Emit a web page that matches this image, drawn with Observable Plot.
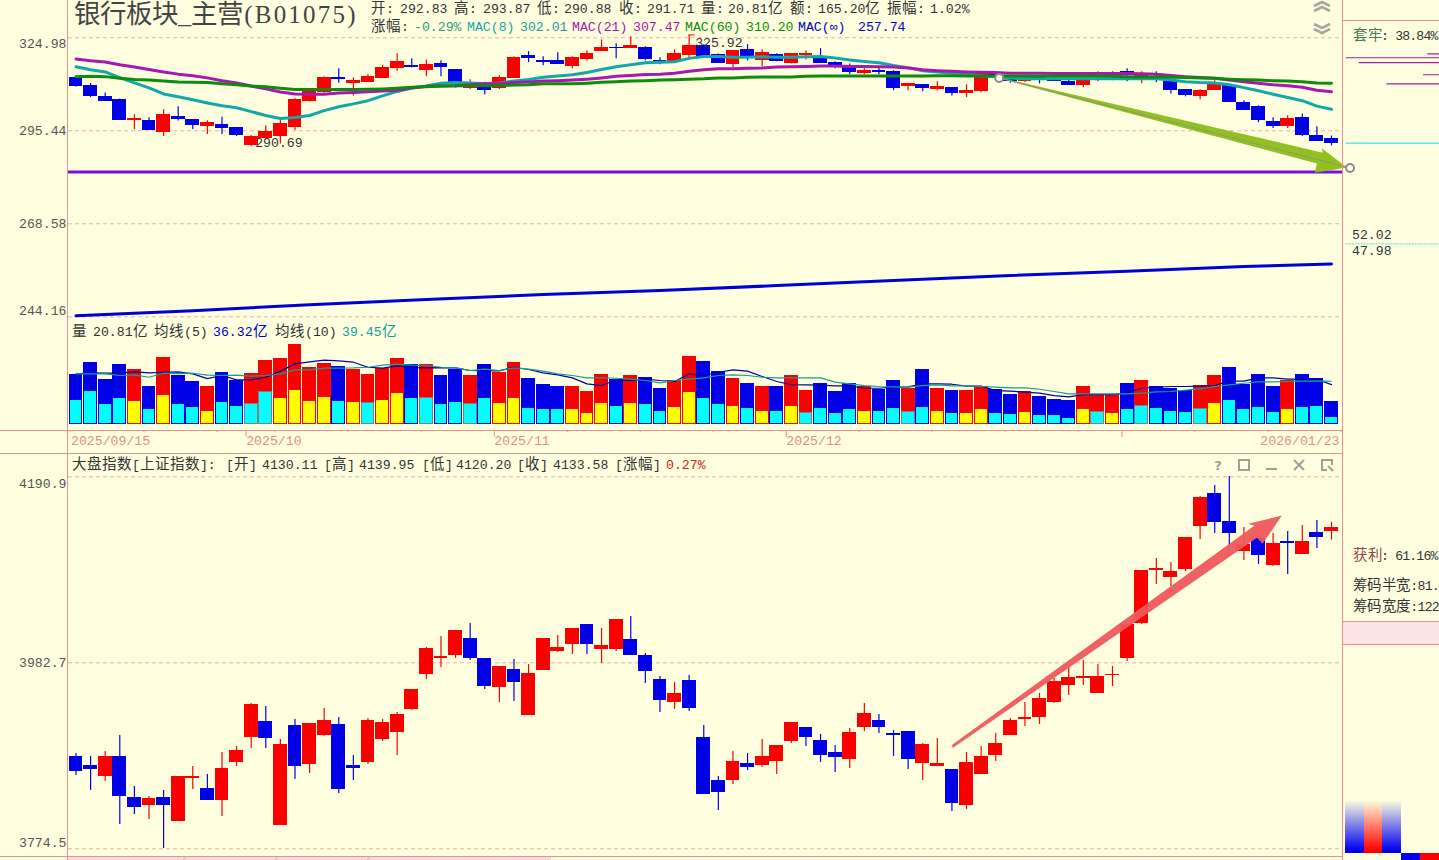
<!DOCTYPE html>
<html>
<head>
<meta charset="utf-8">
<script src="https://cdn.jsdelivr.net/npm/d3@7"></script>
<script src="https://cdn.jsdelivr.net/npm/@observablehq/plot@0.6"></script>
<style>
@font-face{font-family:CJKA;src:local("Noto Sans CJK SC");size-adjust:110%;unicode-range:U+2E80-9FFF,U+FF00-FFEF}
@font-face{font-family:CJKB;src:local("Noto Sans CJK SC");ascent-override:80%;descent-override:15%;unicode-range:U+2E80-9FFF,U+FF00-FFEF}
html,body{margin:0;padding:0;background:#ffffe0;overflow:hidden}
#stage{position:relative;width:1439px;height:860px;background:#ffffe0;overflow:hidden}
#stage svg{position:absolute;left:0}
.t{position:absolute;white-space:pre;font:13.2px/16px CJKA,"Liberation Mono","Noto Sans CJK SC",monospace;color:#333;transform:translateY(calc(-50% + 1.5px))}
.f{position:absolute;background:#ec8f8f}
</style>
</head>
<body>
<div id="stage"></div>
<script>
// ---- 板块 K 线 (sector candles, 87 sessions)
const sectorOpen=[311.9,309.4,305.9,305.0,298.7,298.5,295.2,299.6,298.8,297.0,297.3,296.4,291.3,293.4,294.0,296.7,304.7,307.3,311.9,310.4,310.7,312.0,315.1,315.8,314.5,316.4,314.5,308.7,309.1,308.7,312.0,319.0,317.3,317.3,315.8,318.1,320.7,321.7,321.7,321.7,317.4,317.4,319.4,322.4,319.4,316.4,321.0,317.7,319.4,316.8,319.4,318.4,316.8,315.1,313.6,314.2,313.9,309.4,309.7,308.4,308.8,307.0,307.8,313.2,311.8,311.0,311.9,311.4,310.7,309.7,312.1,312.3,313.9,312.3,311.5,310.7,308.1,306.2,308.1,309.4,304.1,302.8,298.2,297.0,299.4,294.0,292.83];
const sectorClose=[309.4,306.2,304.7,298.8,298.9,295.8,300.3,299.1,297.3,297.9,296.4,294.3,293.7,295.2,297.6,305.0,307.4,311.9,311.5,311.0,312.3,315.1,317.1,315.5,316.1,315.5,310.4,309.1,308.2,312.0,318.4,318.4,317.0,316.4,318.4,319.7,321.7,321.5,322.4,318.1,317.1,319.7,322.4,319.1,316.8,320.7,319.1,320.0,317.4,319.7,319.7,316.8,316.1,313.9,314.0,313.8,308.8,310.0,308.8,309.1,307.2,307.8,313.1,312.5,311.0,311.8,311.6,311.0,309.7,311.0,312.3,312.5,313.5,312.6,311.1,308.1,306.5,307.8,309.7,304.4,301.9,298.8,297.0,299.1,294.3,292.5,291.71];
const sectorHigh=[311.9,310.1,307.1,305.2,300.3,299.4,301.9,302.8,298.8,298.5,299.6,296.4,294.0,297.0,299.0,305.3,307.6,312.2,314.8,311.9,313.1,316.0,319.7,318.1,317.7,317.4,314.5,311.3,310.5,312.6,318.7,320.4,318.7,320.0,318.7,320.7,324.3,323.0,325.3,322.0,318.4,321.0,325.92,322.7,319.6,320.7,322.7,321.0,319.7,319.7,320.7,321.4,317.1,316.4,314.8,315.5,314.2,310.0,309.7,310.7,308.8,309.7,313.5,313.5,312.3,312.6,312.5,312.9,311.4,312.6,313.9,313.9,314.8,313.9,313.9,311.0,308.1,308.1,311.0,309.7,304.7,303.1,299.4,300.0,300.6,296.7,293.87];
const sectorLow=[308.9,305.7,304.5,298.7,295.8,295.5,293.7,298.4,295.8,294.3,294.3,293.7,290.69,293.3,291.5,295.5,304.3,307.0,310.2,306.2,310.5,312.0,314.0,315.1,312.3,312.3,308.7,308.2,306.5,308.2,312.0,316.8,315.8,316.3,314.8,317.4,320.7,318.1,321.7,317.4,316.1,317.1,318.4,319.1,316.7,315.1,317.4,315.5,317.1,316.4,317.7,316.8,314.8,312.9,312.9,312.9,307.8,307.8,307.5,307.8,306.2,305.7,307.2,312.0,310.2,310.4,310.0,310.8,309.5,308.8,310.7,311.0,310.7,310.0,310.4,306.8,305.9,305.0,308.1,304.4,301.9,297.9,296.1,296.1,293.7,292.2,290.88];
const mac8=[315.5,314.5,313.8,312.0,310.3,308.7,306.8,305.9,305.0,304.0,303.1,302.5,301.3,300.1,299.2,299.5,300.1,301.6,302.8,303.7,304.7,306.2,307.6,308.7,309.3,310.2,310.4,310.3,310.0,310.3,310.9,311.4,312.1,312.5,312.9,313.6,314.6,315.5,316.1,316.8,316.9,317.1,318.2,318.8,318.8,318.6,318.6,318.7,318.6,318.6,318.7,318.8,318.3,317.7,317.2,316.8,315.9,315.2,314.2,313.8,313.4,313.2,312.6,312.3,311.9,311.6,311.6,311.6,311.6,311.6,311.6,311.6,311.6,311.6,311.6,311.2,310.7,310.4,310.3,309.7,308.8,307.8,306.7,305.7,304.7,303.0,302.01];
const mac21=[318.0,317.4,317.0,316.1,315.4,314.6,313.8,313.1,312.6,311.9,311.0,310.3,309.3,308.4,307.4,306.8,306.7,306.7,307.1,307.3,307.5,307.7,308.0,308.7,309.2,309.3,309.4,309.7,310.0,310.0,310.4,310.6,310.9,311.0,311.2,311.5,311.9,312.4,312.7,313.0,313.1,313.4,314.0,314.5,314.8,314.8,315.0,315.1,315.4,315.5,315.6,315.7,315.7,315.6,315.6,315.5,315.4,315.1,314.5,314.2,314.0,313.8,313.7,313.6,313.4,313.4,313.4,313.3,313.3,313.3,313.3,313.3,313.3,313.2,313.1,312.7,312.3,312.0,311.8,311.2,310.7,310.2,309.7,309.4,308.9,308.0,307.47];
const mac60=[312.3,312.4,312.3,311.8,311.4,311.2,310.9,310.6,310.5,310.4,310.0,309.7,309.3,309.1,308.6,308.2,308.2,308.2,308.2,308.2,308.3,308.4,308.6,308.9,309.1,309.3,309.4,309.4,309.4,309.5,309.6,309.7,310.0,310.0,310.0,310.2,310.5,310.7,310.9,311.0,311.2,311.3,311.5,311.6,311.9,311.9,312.1,312.2,312.2,312.2,312.4,312.5,312.5,312.5,312.5,312.5,312.5,312.5,312.5,312.6,312.6,312.5,312.5,312.5,312.5,312.5,312.5,312.5,312.5,312.5,312.5,312.4,312.3,312.2,312.2,312.1,312.0,311.9,311.8,311.5,311.3,311.2,311.0,310.9,310.7,310.3,310.2];
const macInfIdx=[0,8,16,24,32,40,48,56,64,72,80,86];
const macInf=[244.4,245.7,247.2,248.5,249.8,250.8,252.1,253.4,254.7,255.8,257.1,257.74];
const supportPrice=283.2;
const sectorTicks=[324.98,295.44,268.58,244.16];
// 右侧筹码线
const chipPrice=[319.7,318.4,316.8,312.9,310.0];
const chipStart=[92.6,87.0,87.9,92.3,89.8];
const chipEnd=98.6;
const lastPrice=291.71, halfPrice=263.1;
// 箭头 (index, price)
const greenArrowIdx=[63.24,85.4,85.33,87.06,84.87,85.0,63.3,63.24];
const greenArrowPrice=[312.1,288.9,290.2,284.5,283.0,285.7,311.6,312.1];
const handleIdx=[63.24,87.27], handlePrice=[311.9,284.4];

// ---- 成交量
const volume=[45.6,56.6,41.0,54.8,49.3,33.7,61.2,43.8,38.3,33.7,47.4,39.2,46.5,58.4,59.4,73.1,52.0,55.7,52.9,49.3,45.6,51.1,60.3,54.8,54.8,44.7,50.2,43.8,54.8,47.4,56.6,41.9,36.4,34.6,33.7,30.0,45.6,41.0,44.7,42.8,32.7,39.2,62.1,57.5,48.3,41.9,37.3,33.7,34.6,43.8,30.9,37.3,30.0,37.3,33.7,31.8,39.2,32.7,50.2,32.7,30.9,30.9,33.7,31.8,27.2,30.0,25.4,22.6,21.7,33.7,27.2,27.2,37.3,40.1,34.6,32.7,30.9,35.5,44.7,52.0,36.4,45.6,34.6,40.1,45.6,41.9,20.81];
const volumeInner=[22.6,30.9,19.0,23.6,21.7,13.5,27.2,19.0,16.2,12.5,20.8,17.1,19.0,30.0,23.6,31.8,21.7,25.4,21.7,20.8,19.9,22.6,28.2,23.6,23.6,18.1,20.8,18.1,23.6,19.9,24.5,15.3,13.5,14.4,13.5,10.7,19.9,17.1,19.9,18.1,12.5,16.2,30.0,23.6,18.1,17.1,15.3,12.5,12.5,17.1,10.7,15.3,10.7,14.4,12.5,12.5,15.3,11.6,16.2,12.5,10.7,10.7,13.5,10.7,9.8,11.6,8.9,8.0,6.1,13.5,11.6,10.7,13.5,17.1,15.3,12.5,11.6,14.4,19.9,22.6,13.5,16.2,11.6,13.5,16.2,17.1,7.0];
const yellowBars=[4,6,9,14,15,16,17,19,21,22,29,30,34,35,36,38,41,42,45,47,49,54,59,61,62,65,69,71,78,83];
const volMa5=[46.2,47.1,46.8,46.8,48.0,47.1,47.7,48.0,46.2,41.9,44.7,40.7,40.7,43.1,48.7,55.4,57.2,58.8,58.1,56.9,52.3,51.4,53.6,52.0,51.7,52.0,51.7,49.3,49.0,49.0,52.3,50.2,47.1,45.3,42.5,37.0,35.5,40.7,40.1,41.3,40.1,39.2,46.2,44.7,47.7,49.9,48.7,43.8,39.2,36.4,36.1,35.8,35.2,35.2,33.0,33.0,34.0,34.3,37.0,37.0,36.7,34.9,34.9,30.9,30.3,29.4,28.5,26.3,25.1,27.2,27.2,27.2,28.8,33.0,34.0,34.6,34.6,34.9,35.5,39.5,39.5,42.5,42.5,41.3,41.3,41.3,36.32];
const volMa10=[46.2,46.2,46.2,44.7,45.3,43.1,46.8,46.5,46.8,45.0,44.7,45.0,44.1,44.7,46.2,49.9,49.9,51.4,51.4,51.7,52.3,54.2,55.1,54.2,53.9,52.3,51.7,49.3,50.5,49.3,51.7,50.5,48.7,46.2,44.7,42.5,42.5,42.2,41.3,40.1,37.9,40.1,41.3,42.5,44.7,45.3,44.7,43.1,42.5,42.5,42.5,42.5,38.6,37.0,35.5,34.6,34.3,34.0,35.5,36.1,35.2,35.2,34.6,34.0,33.4,33.4,32.1,30.0,27.8,27.8,27.8,27.8,27.8,28.5,29.7,30.0,31.2,32.4,34.6,36.1,37.6,38.9,38.9,39.2,39.5,39.8,39.45];
const minorTicks=[5,10,14,19,24,34,39,44,54,59,64,69,77,82,87];
const majorTicks=[12,29,49,72];
const dateLabels=[{i:0,text:"2025/09/15"},{i:12,text:"2025/10"},{i:29,text:"2025/11"},{i:49,text:"2025/12"},{i:86,text:"2026/01/23"}];

// ---- 上证指数 K 线
const indexOpen=[3876.8,3866.7,3855.5,3876.8,3830.9,3823.0,3830.9,3805.1,3853.3,3841.0,3828.6,3871.2,3899.2,3915.9,3800.7,3911.5,3868.9,3901.4,3912.6,3866.7,3871.2,3896.9,3904.8,3930.5,3969.7,3987.6,3990.9,4008.8,3986.5,3955.1,3974.1,3923.8,3974.1,3995.4,4003.3,4024.5,3997.7,3997.7,4007.7,3989.8,3963.0,3938.3,3961.8,3898.0,3849.9,3851.0,3868.9,3867.8,3872.3,3894.7,3909.2,3894.7,3881.2,3874.5,3910.3,3917.1,3902.5,3904.8,3870.1,3866.7,3862.2,3823.0,3857.7,3879.0,3901.4,3919.3,3921.5,3938.3,3958.4,3965.2,3948.4,3968.5,3987.6,4026.8,4086.1,4078.2,4087.2,4135.3,4171.1,4139.8,4107.3,4121.5,4091.7,4117.4,4104.0,4127.5,4130.11];
const indexClose=[3861.1,3863.3,3876.8,3833.1,3820.8,3829.8,3823.0,3854.4,3854.4,3828.6,3863.3,3883.5,3935.0,3898.0,3890.2,3866.7,3913.7,3917.1,3841.0,3864.5,3917.1,3914.8,3923.8,3951.8,3997.7,3988.7,4017.8,3987.6,3956.2,3977.5,3960.7,3969.7,4008.8,3998.8,4020.0,4003.3,4001.0,4030.1,3990.9,3973.0,3940.6,3947.3,3931.6,3835.4,3837.6,3871.2,3865.6,3876.8,3889.1,3914.8,3899.2,3879.0,3876.8,3903.6,3924.9,3910.3,3901.4,3874.5,3890.2,3868.9,3825.3,3871.1,3876.7,3891.3,3918.1,3920.4,3941.7,3960.7,3965.2,3966.3,3966.3,3969.6,4024.5,4085.0,4087.2,4083.8,4121.9,4166.7,4139.8,4127.5,4114.1,4102.9,4115.2,4116.3,4117.4,4123.0,4133.58];
const indexHigh=[3881.2,3877.9,3883.5,3901.4,3844.3,3833.1,3839.8,3855.5,3866.7,3857.7,3882.4,3889.1,3937.2,3933.9,3896.9,3919.3,3913.7,3931.6,3921.5,3879.0,3920.4,3919.3,3927.1,3951.8,3999.9,4012.2,4017.8,4026.8,3987.6,3978.6,3986.5,3980.9,4010.0,4013.3,4020.0,4025.6,4021.2,4030.9,4034.6,3993.2,3967.4,3960.7,3968.6,3912.6,3855.5,3883.5,3881.2,3896.9,3890.2,3915.9,3909.2,3902.5,3890.2,3909.2,3937.2,3924.9,3907.0,3905.9,3892.5,3898.0,3863.3,3882.3,3889.0,3903.6,3920.4,3938.3,3948.4,3965.2,3979.7,3985.3,3980.8,3978.6,4024.5,4085.0,4099.5,4095.0,4123.0,4168.9,4181.2,4191.3,4134.2,4125.3,4127.5,4129.7,4136.4,4142.0,4139.95];
const indexLow=[3856.6,3839.8,3849.9,3801.8,3813.0,3807.4,3774.9,3805.1,3841.0,3828.6,3810.7,3866.7,3886.8,3886.8,3800.7,3852.1,3858.9,3900.3,3836.5,3851.0,3868.9,3894.7,3879.0,3929.4,3964.1,3977.5,3987.6,3985.3,3952.9,3938.3,3939.5,3923.8,3974.1,3994.3,3992.1,3992.1,3982.0,3995.4,3990.9,3959.6,3927.1,3930.5,3928.3,3835.4,3817.5,3846.5,3862.2,3865.6,3857.7,3892.5,3889.1,3871.2,3860.0,3864.5,3905.9,3903.6,3877.9,3863.3,3851.0,3866.7,3816.3,3818.5,3857.7,3872.3,3901.4,3911.4,3913.7,3937.2,3946.1,3957.3,3948.4,3956.2,3984.2,4025.6,4070.4,4068.2,4085.0,4120.8,4127.5,4112.2,4097.3,4092.8,4090.6,4081.6,4104.0,4110.7,4120.20];
const indexTicks=[4190.9,3982.7,3774.5];
const redArrowIdx=[60.0,80.71,80.3,82.6,81.28,80.9,60.05,60.0];
const redArrowPrice=[3890.7,4136.1,4138.3,4147.6,4115.9,4122.6,3887.3,3890.7];

// ---- 文字
const headerLabels=[
[371,8,"开:"],[400,8,"292.83"],[454,8,"高:"],[483,8,"293.87"],[537,8,"低:"],[564,8,"290.88"],[619,8,"收:"],[647,8,"291.71"],[701,8,"量:"],[728,8,"20.81亿"],[790,8,"额:"],[818,8,"165.20亿"],[887,8,"振幅:"],[930,8,"1.02%"],
[371,26,"涨幅:"],[414,26,"-0.29%","#2f9a7a"],[467,26,"MAC(8)","#12a8a8"],[520,26,"302.01","#1f9a9a"],[572,26,"MAC(21)","#a818a8"],[633,26,"307.47","#a818a8"],[685,26,"MAC(60)","#0c8c0c"],[746,26,"310.20","#0c8c0c"],[798,26,"MAC(∞)","#0000c8"],[858,26,"257.74","#0000c8"],
[72,331,"量"],[93,331,"20.81亿"],[154,331,"均线(5)"],[213,331,"36.32亿","#0000c8"],[275,331,"均线(10)"],[342,331,"39.45亿","#12a0a0"],
[72,464,"大盘指数[上证指数]:"],[226,464,"[开]"],[262,464,"4130.11"],[324,464,"[高]"],[359,464,"4139.95"],[422,464,"[低]"],[456,464,"4120.20"],[517,464,"[收]"],[553,464,"4133.58"],[615,464,"[涨幅]"],[666,464,"0.27%","#d02020"],
[1353,35,"套牢","#4a7a5a"],[1381,35,": 38.84%",null,-0.85],[1352,234,"52.02"],[1352,250,"47.98"],
[1353,555,"获利","#8a4a4a"],[1381,555,": 61.16%",null,-0.85],[1353,585,"筹码半宽:81.",null,-0.7],[1353,606,"筹码宽度:122",null,-0.7]
];

const FONT='CJKA,"Liberation Mono","Noto Sans CJK SC",monospace';
const RED="#fb0000", BLUE="#0000e6", CYAN="#00ffff", YELLOW="#ffff00", GRID="#e8b0a0", TICKC="#555";
const bars=d3.range(sectorOpen.length);
const isYellow=new Set(yellowBars);
const xDomain=[0,86], xRange=[75.5,1331];
const hw=0.44;
const stage=document.getElementById("stage");

function candles(O,C,H,L){
  const up=bars.filter(i=>C[i]>=O[i]), dn=bars.filter(i=>C[i]<O[i]);
  const set=(idx,color)=>[
    Plot.ruleX(idx,{x:i=>i,y1:i=>L[i],y2:i=>H[i],stroke:color,strokeWidth:1.2}),
    Plot.rect(idx,{x1:i=>i-hw,x2:i=>i+hw,y1:i=>O[i],y2:i=>C[i],fill:color,stroke:color,strokeWidth:1,shapeRendering:"crispEdges"})
  ];
  return [...set(up,RED),...set(dn,BLUE)];
}
const base=(h,top)=>({width:1439,height:h,marginLeft:68,marginRight:96,marginTop:0,marginBottom:0,
  style:{fontFamily:FONT,fontSize:"13.2px",background:"transparent",overflow:"visible",top:top+"px",color:"#444"}});
const lin=(b,color,w)=>Plot.line(bars,{x:i=>i,y:i=>b[i],stroke:color,strokeWidth:w});
const yAxis=(vals,dy,digits)=>Plot.axisY(vals,{anchor:"left",label:null,tickSize:0,tickPadding:2,dy,fill:TICKC,tickFormat:d=>d.toFixed(digits)});

// Panel 1: sector price
const p1=Plot.plot({...base(320,0),
  x:{domain:xDomain,range:xRange,axis:null},
  y:{type:"log",domain:[324.98,244.16],range:[37.3,316.3],axis:null,label:null},
  marks:[
    Plot.gridY(sectorTicks,{stroke:GRID,strokeOpacity:1,strokeDasharray:"4 3"}),
    yAxis([324.98],6,2),yAxis([295.44,268.58],0,2),yAxis([244.16],-6,2),
    ...candles(sectorOpen,sectorClose,sectorHigh,sectorLow),
    lin(mac8,"#12a8a8",3),
    lin(mac21,"#a818b0",3),
    lin(mac60,"#0c8c0c",3),
    Plot.line(macInfIdx,{x:d=>d,y:(d,i)=>macInf[i],stroke:"#0000d8",strokeWidth:3}),
    Plot.ruleY([supportPrice],{stroke:"#7a10d8",strokeWidth:3}),
    Plot.ruleY(chipPrice,{x1:(d,i)=>chipStart[i],x2:chipEnd,y:d=>d,stroke:"#a020a0",strokeWidth:1.2}),
    Plot.ruleY([lastPrice],{x1:87,x2:chipEnd,stroke:"#40e0e0",strokeWidth:1.2}),
    Plot.ruleY([halfPrice],{x1:87,x2:chipEnd,stroke:"#40e0e0",strokeWidth:1,strokeDasharray:"2 1"}),
    Plot.text([{i:42,p:325.92}],{x:"i",y:"p",text:d=>d.p.toFixed(2),textAnchor:"start",dx:6,dy:8,fill:"#333"}),
    Plot.text([{i:12,p:290.69}],{x:"i",y:"p",text:d=>d.p.toFixed(2),textAnchor:"start",dx:4,dy:-4,fill:"#333"}),
    Plot.ruleY([325.92],{x1:42,x2:42.4,stroke:RED,strokeWidth:1}),
    Plot.line(greenArrowIdx,{x:d=>d,y:(d,i)=>greenArrowPrice[i],fill:"#8cbc16",stroke:"none",fillOpacity:0.95}),
    Plot.line(handleIdx,{x:d=>d,y:(d,i)=>handlePrice[i],stroke:"#8a9a78",strokeWidth:1}),
    Plot.dot(handleIdx,{x:d=>d,y:(d,i)=>handlePrice[i],r:4,fill:"#fffff4",stroke:"#8a8a8a",strokeWidth:2})
  ]});
stage.appendChild(p1);

// Panel 2: volume
const volSet=(idx,fill,stroke)=>Plot.rect(idx,{x1:i=>i-hw,x2:i=>i+hw,y1:0,y2:i=>volumeInner[i],fill,stroke,strokeWidth:1,shapeRendering:"crispEdges"});
const redBars=bars.filter(i=>sectorClose[i]>=sectorOpen[i]);
const blueBars=bars.filter(i=>sectorClose[i]<sectorOpen[i]);
const p2=Plot.plot({...base(110,320),
  x:{domain:xDomain,range:xRange,axis:null},
  y:{domain:[0,91.8],range:[103.7,3.7],axis:null},
  marks:[
    Plot.rect(redBars,{x1:i=>i-hw,x2:i=>i+hw,y1:0,y2:i=>volume[i],fill:RED,stroke:RED,strokeWidth:1,shapeRendering:"crispEdges"}),
    Plot.rect(blueBars,{x1:i=>i-hw,x2:i=>i+hw,y1:0,y2:i=>volume[i],fill:BLUE,stroke:BLUE,strokeWidth:1,shapeRendering:"crispEdges"}),
    volSet(blueBars,CYAN,BLUE),
    volSet(redBars.filter(i=>isYellow.has(i)),YELLOW,RED),
    volSet(redBars.filter(i=>!isYellow.has(i)),CYAN,"#808080"),
    lin(volMa5,"#0000a8",1.2),
    lin(volMa10,"#12a090",1.2)
  ]});
stage.appendChild(p2);

// Panel 3: Shanghai index
const p3=Plot.plot({...base(407,453),
  x:{domain:xDomain,range:xRange,axis:null},
  y:{domain:[4190.9,3774.5],range:[23.3,395.3],axis:null,label:null},
  marks:[
    Plot.gridY(indexTicks,{stroke:GRID,strokeOpacity:1,strokeDasharray:"4 3"}),
    yAxis([4190.9],7,1),yAxis([3982.7],0,1),yAxis([3774.5],-6,1),
    ...candles(indexOpen,indexClose,indexHigh,indexLow),
    Plot.line(redArrowIdx,{x:d=>d,y:(d,i)=>redArrowPrice[i],fill:"#f0585c",stroke:"none",fillOpacity:0.95})
  ]});
stage.appendChild(p3);

// Date strip: its own small plot sharing the bar-index scale
const p4=Plot.plot({...base(23,430),
  x:{domain:xDomain,range:xRange,axis:null},
  y:{domain:[0,1],range:[0,23],axis:null},
  marks:[
    Plot.ruleX(minorTicks,{x:i=>i-0.35,y1:0,y2:0.09,stroke:"#e48c8c"}),
    Plot.ruleX(majorTicks,{x:i=>i-0.35,y1:0,y2:0.3,stroke:"#e48c8c"}),
    Plot.text(dateLabels.slice(0,4),{x:"i",y:0.45,text:"text",textAnchor:"start",dx:-5,fill:"#e48c8c"}),
    Plot.text(dateLabels.slice(4),{x:"i",y:0.45,text:"text",textAnchor:"end",dx:8,fill:"#e48c8c"})
  ]});
stage.appendChild(p4);

// Frame lines
[[67,0,1,860],[1342,0,1,860],[0,430,1343,1],[0,453,1343,1],[0,856,1343,1],[1343,20,96,1],[1343,621,96,1],[1343,644,96,1]].forEach(([l,t,w,h])=>{
  const d=document.createElement("div");d.className="f";d.style.cssText=`left:${l}px;top:${t}px;width:${w}px;height:${h}px`;stage.appendChild(d);});
const band=(css)=>{const d=document.createElement("div");d.style.cssText="position:absolute;"+css;stage.appendChild(d);};
band("left:1343px;top:622px;width:96px;height:22px;background:#fde4e4");
band("left:68px;top:857px;width:480px;height:3px;background:#f9d9d9");
band("left:1345px;top:800px;width:19px;height:53px;background:linear-gradient(#ffffe0,#0000f0 95%)");
band("left:1364px;top:800px;width:18px;height:53px;background:linear-gradient(#ffffe0,#ff0000 95%)");
band("left:1382px;top:800px;width:19px;height:53px;background:linear-gradient(#ffffe0,#0000f0 95%)");
band("left:1401px;top:853px;width:19px;height:7px;background:#0000f0");
band("left:1420px;top:853px;width:19px;height:7px;background:#ff0000");

// Labels
headerLabels.forEach(([x,y,s,c,ls])=>{
  const d=document.createElement("div");d.className="t";d.textContent=s;
  d.style.left=x+"px";d.style.top=y+"px";if(c)d.style.color=c;if(ls)d.style.letterSpacing=ls+"px";stage.appendChild(d);});
const title=document.createElement("div");
title.innerHTML='银行板块_主营<span style="font-size:25px;letter-spacing:2.2px;margin-left:1px">(B01075)</span>';
title.style.cssText='position:absolute;left:74px;top:1px;white-space:pre;font:26.5px/26px CJKB,"Liberation Serif","Noto Sans CJK SC",serif;color:#444';
stage.appendChild(title);

// Window icons
const icons=document.createElementNS("http://www.w3.org/2000/svg","svg");
icons.setAttribute("width",1439);icons.setAttribute("height",860);icons.style.cssText="top:0;pointer-events:none";
icons.innerHTML=`
<g fill="none" stroke="#a8a8a0" stroke-width="2.6">
<path d="M1314 6l8-4 8 4M1314 11l8-4 8 4M1314 24l8 4 8-4M1314 29l8 4 8-4"/>
</g>
<g fill="none" stroke="#a0a098" stroke-width="2">
<rect x="1239" y="460" width="10" height="10"/>
<path d="M1266 469h11M1294 460l10 10M1304 460l-10 10"/>
<path d="M1327 470h-5v-10h10v5M1328 466l5 5"/>
</g>
<g fill="none" stroke="#e9a0a0" stroke-width="1"><path d="M187 856l-4 4M279 856l-4 4M371 856l-4 4M552 856l-4 4"/></g>
<text x="1218" y="470" text-anchor="middle" font-family="DejaVu Sans" font-weight="bold" font-size="13" fill="#a0a098">?</text>`;
stage.appendChild(icons);
</script>
</body>
</html>
